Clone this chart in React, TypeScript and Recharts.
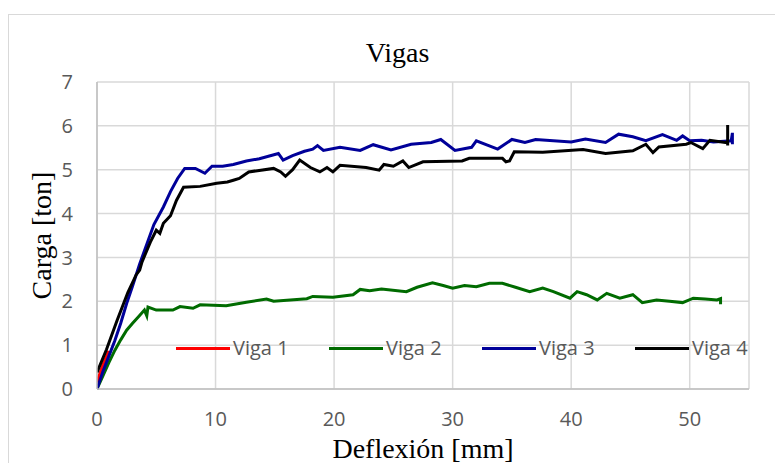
import { LineChart, Line, XAxis, YAxis, CartesianGrid } from 'recharts'

type Pt = { x: number; y: number }

const xTicks = [0, 10, 20, 30, 40, 50]
const yTicks = [0, 1, 2, 3, 4, 5, 6, 7]

const viga1: Pt[] = [
  { x: 0, y: 0.15 }, { x: 0.3, y: 0.4 }, { x: 0.6, y: 0.62 }, { x: 1.0, y: 0.87 },
]

const viga2: Pt[] = [
  { x: 0, y: 0 }, { x: 0.5, y: 0.3 }, { x: 1, y: 0.6 }, { x: 1.5, y: 0.88 }, { x: 2, y: 1.12 },
  { x: 2.5, y: 1.34 }, { x: 3, y: 1.5 }, { x: 3.5, y: 1.65 }, { x: 4, y: 1.8 }, { x: 4.2, y: 1.67 },
  { x: 4.3, y: 1.87 }, { x: 5, y: 1.8 }, { x: 6.4, y: 1.8 }, { x: 7, y: 1.88 }, { x: 8.1, y: 1.84 },
  { x: 8.7, y: 1.92 }, { x: 10.9, y: 1.9 }, { x: 12.6, y: 1.98 }, { x: 14.3, y: 2.05 }, { x: 14.9, y: 2.0 },
  { x: 17.7, y: 2.06 }, { x: 18.2, y: 2.11 }, { x: 19.9, y: 2.09 }, { x: 21.6, y: 2.15 }, { x: 22.2, y: 2.27 },
  { x: 23, y: 2.24 }, { x: 24, y: 2.28 }, { x: 26.1, y: 2.22 }, { x: 27, y: 2.32 }, { x: 28.3, y: 2.42 },
  { x: 29.2, y: 2.36 }, { x: 30, y: 2.3 }, { x: 31, y: 2.36 }, { x: 32, y: 2.33 }, { x: 33.1, y: 2.41 },
  { x: 34.2, y: 2.41 }, { x: 35.3, y: 2.32 }, { x: 36.5, y: 2.22 }, { x: 37.6, y: 2.3 }, { x: 38.5, y: 2.22 },
  { x: 39.9, y: 2.07 }, { x: 40.5, y: 2.22 }, { x: 41.3, y: 2.15 }, { x: 42.2, y: 2.03 }, { x: 43, y: 2.18 },
  { x: 44.1, y: 2.07 }, { x: 45.2, y: 2.15 }, { x: 46, y: 1.97 }, { x: 47.2, y: 2.03 }, { x: 48.3, y: 2.0 },
  { x: 49.4, y: 1.97 }, { x: 50.3, y: 2.07 }, { x: 51.3, y: 2.05 }, { x: 52.3, y: 2.03 }, { x: 52.6, y: 2.06 },
  { x: 52.6, y: 1.93 },
]

const viga3: Pt[] = [
  { x: 0, y: 0 }, { x: 0.5, y: 0.4 }, { x: 1, y: 0.75 }, { x: 1.5, y: 1.1 }, { x: 2, y: 1.5 },
  { x: 2.5, y: 1.95 }, { x: 3, y: 2.35 }, { x: 3.6, y: 2.85 }, { x: 4.2, y: 3.3 }, { x: 4.8, y: 3.75 },
  { x: 5.6, y: 4.15 }, { x: 6.2, y: 4.5 }, { x: 6.8, y: 4.8 }, { x: 7.4, y: 5.03 }, { x: 8.3, y: 5.03 },
  { x: 9.1, y: 4.92 }, { x: 9.7, y: 5.08 }, { x: 10.6, y: 5.08 }, { x: 11.5, y: 5.12 }, { x: 12.6, y: 5.2 },
  { x: 13.7, y: 5.25 }, { x: 15.3, y: 5.37 }, { x: 15.7, y: 5.22 }, { x: 16.5, y: 5.32 }, { x: 17.5, y: 5.42 },
  { x: 18.2, y: 5.47 }, { x: 18.6, y: 5.55 }, { x: 19.1, y: 5.44 }, { x: 20.5, y: 5.51 }, { x: 22.2, y: 5.44 },
  { x: 23.3, y: 5.57 }, { x: 24.8, y: 5.45 }, { x: 26.5, y: 5.58 }, { x: 28.2, y: 5.62 }, { x: 29, y: 5.69 },
  { x: 30.2, y: 5.44 }, { x: 31.6, y: 5.51 }, { x: 32, y: 5.66 }, { x: 33.8, y: 5.47 }, { x: 35, y: 5.69 },
  { x: 36.1, y: 5.62 }, { x: 37, y: 5.69 }, { x: 40, y: 5.63 }, { x: 41.2, y: 5.7 }, { x: 42.9, y: 5.62 },
  { x: 44, y: 5.81 }, { x: 45.2, y: 5.75 }, { x: 46.3, y: 5.66 }, { x: 47.7, y: 5.8 }, { x: 48.9, y: 5.67 },
  { x: 49.4, y: 5.77 }, { x: 50, y: 5.66 }, { x: 51, y: 5.67 }, { x: 52, y: 5.63 }, { x: 53.5, y: 5.66 },
  { x: 53.6, y: 5.84 }, { x: 53.6, y: 5.58 },
]

const viga4: Pt[] = [
  { x: 0, y: 0.38 }, { x: 0.8, y: 0.9 }, { x: 1.7, y: 1.57 }, { x: 2.6, y: 2.2 }, { x: 3.3, y: 2.6 },
  { x: 3.6, y: 2.71 }, { x: 3.8, y: 2.9 }, { x: 4.5, y: 3.35 }, { x: 5, y: 3.62 }, { x: 5.3, y: 3.55 },
  { x: 5.6, y: 3.78 }, { x: 6.2, y: 3.95 }, { x: 6.7, y: 4.3 }, { x: 7.3, y: 4.6 }, { x: 8.7, y: 4.62 },
  { x: 10.1, y: 4.69 }, { x: 11, y: 4.72 }, { x: 11.5, y: 4.76 }, { x: 12, y: 4.8 }, { x: 12.8, y: 4.95 },
  { x: 14.9, y: 5.03 }, { x: 15.5, y: 4.95 }, { x: 15.9, y: 4.85 }, { x: 16.5, y: 5.0 }, { x: 17.1, y: 5.22 },
  { x: 18, y: 5.05 }, { x: 18.8, y: 4.95 }, { x: 19.4, y: 5.05 }, { x: 19.9, y: 4.95 }, { x: 20.5, y: 5.1 },
  { x: 22.7, y: 5.05 }, { x: 23.8, y: 4.99 }, { x: 24.2, y: 5.12 }, { x: 25, y: 5.08 }, { x: 25.8, y: 5.2 },
  { x: 26.3, y: 5.05 }, { x: 27.5, y: 5.18 }, { x: 30.8, y: 5.2 }, { x: 31.4, y: 5.26 }, { x: 34.2, y: 5.26 },
  { x: 34.5, y: 5.18 }, { x: 34.8, y: 5.2 }, { x: 35.2, y: 5.41 }, { x: 37.6, y: 5.4 }, { x: 41, y: 5.46 },
  { x: 42.9, y: 5.37 }, { x: 45.2, y: 5.43 }, { x: 46.3, y: 5.58 }, { x: 46.9, y: 5.39 }, { x: 47.4, y: 5.52 },
  { x: 49.7, y: 5.58 }, { x: 50.1, y: 5.62 }, { x: 51.1, y: 5.48 }, { x: 51.7, y: 5.67 }, { x: 53.0, y: 5.62 },
  { x: 53.2, y: 5.62 }, { x: 53.2, y: 6.02 }, { x: 53.2, y: 5.55 },
]

const seriesNames = ['Viga 1', 'Viga 2', 'Viga 3', 'Viga 4']
const seriesColors = ['#ff0000', '#006b00', '#000099', '#000000']
const seriesData = [viga1, viga2, viga3, viga4]

const tickStyle = { fontFamily: '"Open Sans", sans-serif', fontSize: 20, fill: '#595959' }
const serif = '"Liberation Serif", "Times New Roman", serif'

export default function App() {
  return (
    <div style={{ position: 'fixed', left: 0, top: 0, width: 775, height: 463, overflow: 'hidden', background: '#fff' }}>
      <div style={{ position: 'absolute', left: 8, top: 14, width: 820, height: 520, border: '1px solid #d9d9d9' }} />
      <div
        style={{
          position: 'absolute', left: 0, top: 39, width: 795, textAlign: 'center',
          fontFamily: serif, fontSize: 28, lineHeight: 1, color: '#000',
        }}
      >
        Vigas
      </div>
      <div style={{ position: 'absolute', left: 0, top: 0 }}>
        <LineChart width={775} height={463} margin={{ top: 82, right: 26, bottom: 0, left: 37 }}>
          <CartesianGrid stroke="#d9d9d9" strokeWidth={1.5} verticalPoints={undefined} />
          <XAxis
            type="number"
            dataKey="x"
            domain={[0, 55]}
            ticks={xTicks}
            allowDataOverflow
            height={74}
            tickLine={false}
            tickSize={0}
            tickMargin={23}
            axisLine={{ stroke: '#bfbfbf', strokeWidth: 1.5 }}
            tick={tickStyle}
            label={{ value: 'Deflexión [mm]', position: 'insideBottom', offset: 5, style: { fontFamily: serif, fontSize: 28, fill: '#000' } }}
          />
          <YAxis
            type="number"
            domain={[0, 7]}
            ticks={yTicks}
            width={60}
            tickLine={false}
            tickSize={0}
            tickMargin={24}
            axisLine={{ stroke: '#bfbfbf', strokeWidth: 1.5 }}
            tick={tickStyle}
            label={{
              content: (props: any) => {
                const vb = props.viewBox || { x: 37, y: 82, width: 60, height: 307 }
                const cx = vb.x + 4
                const cy = vb.y + vb.height / 2
                return (
                  <text
                    x={cx}
                    y={cy}
                    transform={`rotate(-90 ${cx} ${cy})`}
                    textAnchor="middle"
                    dominantBaseline="central"
                    style={{ fontFamily: serif, fontSize: 28, fill: '#000' }}
                  >
                    Carga [ton]
                  </text>
                )
              },
            }}
          />
          {seriesData.map((d, i) => (
            <Line
              key={seriesNames[i]}
              data={d}
              dataKey="y"
              name={seriesNames[i]}
              type="linear"
              stroke={seriesColors[i]}
              strokeWidth={3}
              dot={false}
              activeDot={false}
              isAnimationActive={false}
            />
          ))}
        </LineChart>
      </div>
      <div style={{ position: 'absolute', left: 176, top: 334, display: 'flex' }}>
        {seriesNames.map((n, i) => (
          <div key={n} style={{ width: 153, height: 28, display: 'flex', alignItems: 'center' }}>
            <div style={{ width: 54, height: 3, background: seriesColors[i], marginRight: 3 }} />
            <span style={{ fontFamily: '"Open Sans", sans-serif', fontSize: 20, color: '#595959', lineHeight: '28px' }}>{n}</span>
          </div>
        ))}
      </div>
    </div>
  )
}
